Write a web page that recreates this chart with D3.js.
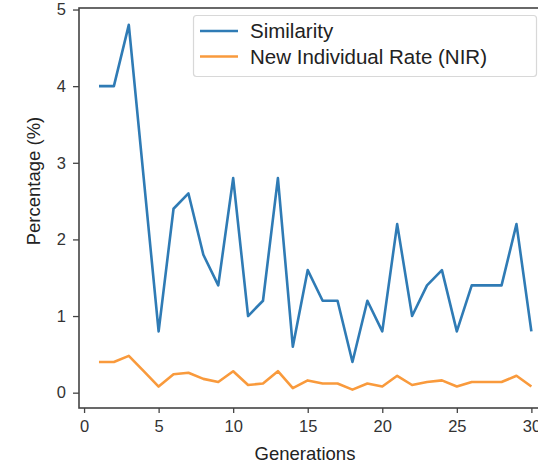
<!DOCTYPE html>
<html>
<head>
<meta charset="utf-8">
<script src="https://cdn.jsdelivr.net/npm/d3@7"></script>
<style>
  body { margin: 0; background: #fff; }
  svg { display: block; font-family: "Liberation Sans", Arial, sans-serif; }
  .tick-text { font-size: 16.5px; fill: #333; }
  .axis-label { font-size: 18.5px; fill: #222; }
  .legend-text { font-size: 20.5px; fill: #222; }
</style>
</head>
<body>
<svg id="chart" width="538" height="463"></svg>
<script>
// data
var generations = d3.range(1, 31);
var similarity = [4.0, 4.0, 4.8, 2.8, 0.8, 2.4, 2.6, 1.8, 1.4, 2.8,
                  1.0, 1.2, 2.8, 0.6, 1.6, 1.2, 1.2, 0.4, 1.2, 0.8,
                  2.2, 1.0, 1.4, 1.6, 0.8, 1.4, 1.4, 1.4, 2.2, 0.8];
var nir = [0.40, 0.40, 0.48, 0.28, 0.08, 0.24, 0.26, 0.18, 0.14, 0.28,
           0.10, 0.12, 0.28, 0.06, 0.16, 0.12, 0.12, 0.04, 0.12, 0.08,
           0.22, 0.10, 0.14, 0.16, 0.08, 0.14, 0.14, 0.14, 0.22, 0.08];
var xTicks = [0, 5, 10, 15, 20, 25, 30];
var yTicks = [0, 1, 2, 3, 4, 5];
var seriesNames = ['Similarity', 'New Individual Rate (NIR)'];
var seriesColors = ['#2f7bb5', '#f99a3c'];

var svg = d3.select('#chart');

var plotLeft = 79, plotRight = 553, plotTop = 8, plotBottom = 408;
var x = d3.scaleLinear().domain([-0.34, 31.45]).range([plotLeft, plotRight]);
var y = d3.scaleLinear().domain([-0.2, 5.02]).range([plotBottom, plotTop]);

//frame
svg.append('rect')
    .attr('x', plotLeft)
    .attr('y', plotTop)
    .attr('width', plotRight - plotLeft)
    .attr('height', plotBottom - plotTop)
    .attr('fill', 'none')
    .attr('stroke', '#444')
    .attr('stroke-width', 1.6);

//x axis
var xAxis = svg.append('g')
    .attr('transform', 'translate(0,' + plotBottom + ')')
    .call(d3.axisBottom(x).tickValues(xTicks).tickFormat(d3.format('d')).tickSize(5).tickPadding(7));
xAxis.attr('font-size', null).attr('font-family', null);
xAxis.select('.domain').remove();
xAxis.selectAll('line').attr('stroke', '#444').attr('stroke-width', 1.3);
xAxis.selectAll('text').attr('class', 'tick-text');

//y axis
var yAxis = svg.append('g')
    .attr('transform', 'translate(' + plotLeft + ',0)')
    .call(d3.axisLeft(y).tickValues(yTicks).tickFormat(d3.format('d')).tickSize(6).tickPadding(7));
yAxis.attr('font-size', null).attr('font-family', null);
yAxis.select('.domain').remove();
yAxis.selectAll('line').attr('stroke', '#444').attr('stroke-width', 1.3);
yAxis.selectAll('text').attr('class', 'tick-text');

//axis labels
svg.append('text')
    .attr('class', 'axis-label')
    .attr('text-anchor', 'middle')
    .attr('x', 305)
    .attr('y', 460)
    .text('Generations');

svg.append('text')
    .attr('class', 'axis-label')
    .attr('text-anchor', 'middle')
    .attr('transform', 'translate(40,181) rotate(-90)')
    .text('Percentage (%)');

//lines
var line = d3.line()
    .x(function(d, i) { return x(generations[i]); })
    .y(function(d) { return y(d); });

[similarity, nir].forEach(function(values, k) {
    svg.append('path')
        .datum(values)
        .attr('fill', 'none')
        .attr('stroke', seriesColors[k])
        .attr('stroke-width', 2.6)
        .attr('stroke-linejoin', 'round')
        .attr('d', line);
});

//legend
var legend = svg.append('g');
legend.append('rect')
    .attr('x', 193.5)
    .attr('y', 15.5)
    .attr('width', 343)
    .attr('height', 61)
    .attr('rx', 3)
    .attr('fill', '#fff')
    .attr('fill-opacity', 0.85)
    .attr('stroke', '#d8d8d8')
    .attr('stroke-width', 1.2);

seriesNames.forEach(function(name, k) {
    var cy = 31 + k * 25.5;
    legend.append('line')
        .attr('x1', 200)
        .attr('x2', 238)
        .attr('y1', cy)
        .attr('y2', cy)
        .attr('stroke', seriesColors[k])
        .attr('stroke-width', 2.6);
    legend.append('text')
        .attr('class', 'legend-text')
        .attr('x', 250)
        .attr('y', cy + 7)
        .text(name);
});
</script>
</body>
</html>
